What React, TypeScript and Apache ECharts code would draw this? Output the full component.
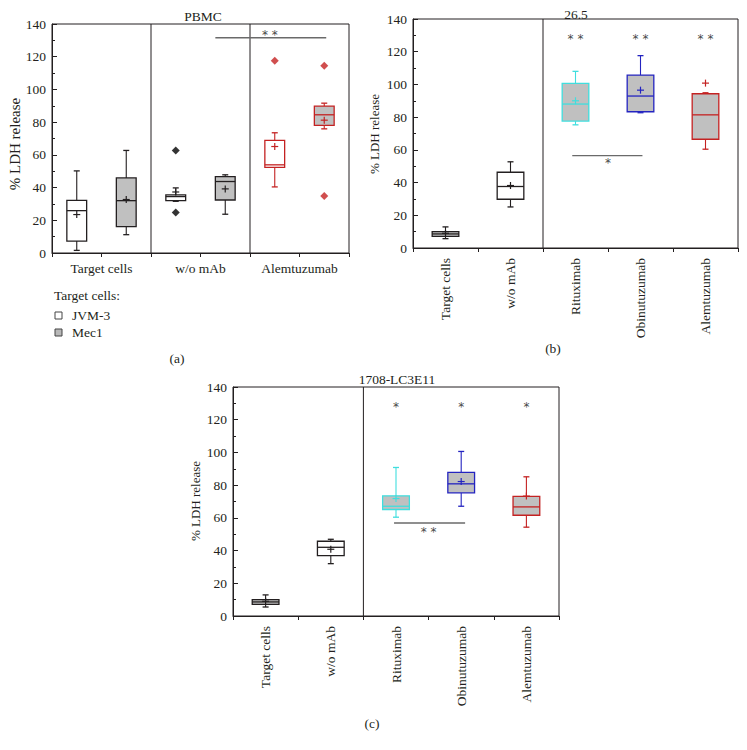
import React, { useEffect, useRef } from "react";
import * as echarts from "echarts";

// ---------- DATA ----------
const catsA = ["Target cells", "w/o mAb", "Alemtuzumab"];
// [min, Q1, median, Q3, max]
const jvm3Boxes = [
  [1.6, 7.3, 25.9, 32.2, 50.2],
  [31.6, 32.0, 34.5, 35.5, 39.8],
  [40.4, 52.4, 53.9, 68.8, 73.5],
];
const jvm3Means = [23.5, 37.3, 65.1];
const mec1Boxes = [
  [11.2, 16.1, 32.0, 45.9, 62.7],
  [23.7, 32.4, 43.7, 46.7, 47.8],
  [75.9, 78.0, 84.5, 89.8, 91.6],
];
const mec1Means = [32.7, 39.2, 81.2];
// [categoryIndex, value]
const jvm3Outliers = [
  [1, 62.7],
  [1, 24.7],
  [2, 117.6],
];
const mec1Outliers = [
  [2, 114.5],
  [2, 34.9],
];

const catsBC = ["Target cells", "w/o mAb", "Rituximab", "Obinutuzumab", "Alemtuzumab"];
const boxesB = [
  [5.7, 7.1, 8.6, 10.0, 12.9],
  [25.1, 29.8, 37.6, 46.3, 52.7],
  [75.3, 77.6, 88.0, 100.6, 108.0],
  [82.7, 83.3, 92.9, 105.7, 117.6],
  [60.4, 66.5, 81.4, 94.3, 94.9],
];
const meansB = [9.0, 38.2, 90.0, 96.5, 100.8];
const boxesC = [
  [5.5, 7.1, 8.6, 10.0, 12.9],
  [32.0, 36.9, 42.0, 45.7, 46.9],
  [60.4, 65.1, 67.1, 73.5, 90.8],
  [67.1, 75.3, 80.8, 87.8, 100.6],
  [54.3, 61.6, 66.7, 73.1, 85.1],
];
const meansC = [9.0, 40.8, 71.8, 82.2, 73.3];

const yTicks = { min: 0, max: 140, interval: 20 };

// significance annotations: [x1, x2, y] lines and [x, y, label] texts (axis units)
const sigLinesA = [[1.65, 2.77, 131.6]];
const sigTextsA = [[2.2, 134.5, "* *"]];
const sigLinesB = [[2.45, 3.53, 56.5]];
const sigTextsB = [
  [2.5, 129, "* *"],
  [3.5, 129, "* *"],
  [4.5, 129, "* *"],
  [3.0, 53, "*"],
];
const sigLinesC = [[2.47, 3.56, 56.9]];
const sigTextsC = [
  [2.5, 128.8, "*"],
  [3.5, 128.8, "*"],
  [4.5, 128.8, "*"],
  [3.0, 52.7, "* *"],
];

// ---------- STYLE ----------
const FONT = '"Liberation Serif", "DejaVu Serif", serif';
const INK = "#231f20";
const GRAY = "#c0c0c0";
const RED = "#c42222";
const CYAN = "#40dede";
const BLUE = "#2424c0";
const SIG = "#4a4a4a";

const line = (x1: number, y1: number, x2: number, y2: number, stroke: string, lw = 1) => ({
  type: "line",
  shape: { x1, y1, x2, y2 },
  style: { stroke, lineWidth: lw },
});

const makeBoxRender =
  (widthFrac: number, strokes: string[], fills: string[]) => (params: any, api: any) => {
    const i = params.dataIndex;
    const x = api.value(0);
    const c = (v: number) => api.coord([x, v]);
    const [cx, yMin] = c(api.value(1));
    const yQ1 = c(api.value(2))[1];
    const yMed = c(api.value(3))[1];
    const yQ3 = c(api.value(4))[1];
    const yMax = c(api.value(5))[1];
    const yMean = c(api.value(6))[1];
    const w = api.size([widthFrac, 0])[0];
    const cap = 3;
    const s = strokes[i];
    const f = fills[i];
    const p = 3.5;
    return {
      type: "group",
      children: [
        line(cx, yQ3, cx, yMax, s, 1.1),
        line(cx - cap, yMax, cx + cap, yMax, s, 1.3),
        line(cx, yQ1, cx, yMin, s, 1.1),
        line(cx - cap, yMin, cx + cap, yMin, s, 1.3),
        {
          type: "rect",
          shape: { x: cx - w / 2, y: yQ3, width: w, height: yQ1 - yQ3 },
          style: { fill: f, stroke: s, lineWidth: 1.3 },
        },
        line(cx - w / 2, yMed, cx + w / 2, yMed, s, 1.3),
        line(cx - p, yMean, cx + p, yMean, s, 1.2),
        line(cx, yMean - p, cx, yMean + p, s, 1.2),
      ],
    };
  };

const dividerRender = (params: any, api: any) => {
  const x = api.value(0);
  const a = api.coord([x, yTicks.min]);
  const b = api.coord([x, yTicks.max]);
  return line(a[0], a[1], b[0], b[1], INK, 1);
};

const sigLineRender = (params: any, api: any) => {
  const a = api.coord([api.value(0), api.value(2)]);
  const b = api.coord([api.value(1), api.value(2)]);
  return line(a[0], a[1], b[0], b[1], "#6a6a6a", 1.4);
};

const sigTextRender = (texts: any[]) => (params: any, api: any) => {
  const t = texts[params.dataIndex];
  const p = api.coord([t[0], t[1]]);
  return {
    type: "text",
    x: p[0],
    y: p[1] + 2,
    style: {
      text: t[2],
      align: "center",
      verticalAlign: "middle",
      font: `12px "DejaVu Sans", sans-serif`,
      fill: SIG,
    },
  };
};

const boxData = (boxes: number[][], means: number[], xs: number[]) =>
  boxes.map((b, i) => [xs[i], ...b, means[i]]);

export default function App() {
  const ref = useRef<HTMLDivElement>(null);
  useEffect(() => {
    if (!ref.current) return;
    const chart = echarts.init(ref.current, null, { renderer: "svg" });

    const grids = [
      { left: 52, top: 24, width: 297, height: 229 },
      { left: 413, top: 19, width: 325, height: 229 },
      { left: 233, top: 387, width: 326, height: 229 },
    ];

    const yAxis = [0, 1, 2].map((g) => ({
      gridIndex: g,
      type: "value",
      min: yTicks.min,
      max: yTicks.max,
      interval: yTicks.interval,
      axisLine: { show: true, lineStyle: { color: INK, width: 1 } },
      axisTick: { show: true, inside: true, length: 5, lineStyle: { color: INK } },
      minorTick: { show: true, splitNumber: 2, length: 3, lineStyle: { color: INK } },
      splitLine: { show: false },
      axisLabel: { fontFamily: FONT, fontSize: 13.5, color: INK, margin: 6 },
    }));

    const xAxis = [
      {
        gridIndex: 0,
        type: "value",
        min: 0,
        max: catsA.length,
        axisLine: { show: true, onZero: false, lineStyle: { color: INK } },
        axisTick: { show: true, length: 4, customValues: [0, 0.5, 1, 1.5, 2, 2.5, 3], lineStyle: { color: INK } },
        axisLabel: {
          customValues: catsA.map((_, i) => i + 0.5),
          formatter: (v: number) => catsA[Math.floor(v)],
          fontFamily: FONT,
          fontSize: 13.5,
          color: INK,
          margin: 8,
        },
        splitLine: { show: false },
      },
      ...[1, 2].map((g) => ({
        gridIndex: g,
        type: "value",
        min: 0,
        max: catsBC.length,
        axisLine: { show: true, onZero: false, lineStyle: { color: INK } },
        axisTick: { show: true, length: 4, customValues: [0, 1, 2, 3, 4, 5], lineStyle: { color: INK } },
        axisLabel: {
          customValues: catsBC.map((_, i) => i + 0.5),
          formatter: (v: number) => catsBC[Math.floor(v)],
          rotate: 90,
          fontFamily: FONT,
          fontSize: 13.5,
          color: INK,
          margin: 10,
        },
        splitLine: { show: false },
      })),
    ];

    const strokesA = [INK, INK, RED];
    const strokesBC = [INK, INK, CYAN, BLUE, RED];
    const fillsBC = [GRAY, "#ffffff", GRAY, GRAY, GRAY];

    const custom = (g: number, data: any[], renderItem: any) => ({
      type: "custom",
      xAxisIndex: g,
      yAxisIndex: g,
      clip: false,
      silent: true,
      data,
      renderItem,
    });

    const series: any[] = [
      custom(0, [[1], [2]], dividerRender),
      custom(1, [[2]], dividerRender),
      custom(2, [[2]], dividerRender),
      custom(
        0,
        boxData(jvm3Boxes, jvm3Means, catsA.map((_, i) => i + 0.25)),
        makeBoxRender(0.2, strokesA, ["#ffffff", "#ffffff", "#ffffff"])
      ),
      custom(
        0,
        boxData(mec1Boxes, mec1Means, catsA.map((_, i) => i + 0.75)),
        makeBoxRender(0.2, strokesA, [GRAY, GRAY, GRAY])
      ),
      {
        type: "scatter",
        xAxisIndex: 0,
        yAxisIndex: 0,
        symbol: "diamond",
        symbolSize: [8, 8],
        silent: true,
        data: [
          ...jvm3Outliers.map((o) => ({ value: [o[0] + 0.25, o[1]], itemStyle: { color: strokesA[o[0]] === RED ? RED : "#000" } })),
          ...mec1Outliers.map((o) => ({ value: [o[0] + 0.75, o[1]], itemStyle: { color: strokesA[o[0]] === RED ? RED : "#000" } })),
        ],
      },
      custom(1, boxData(boxesB, meansB, catsBC.map((_, i) => i + 0.5)), makeBoxRender(0.41, strokesBC, fillsBC)),
      custom(2, boxData(boxesC, meansC, catsBC.map((_, i) => i + 0.5)), makeBoxRender(0.41, strokesBC, fillsBC)),
      custom(0, sigLinesA, sigLineRender),
      custom(1, sigLinesB, sigLineRender),
      custom(2, sigLinesC, sigLineRender),
      custom(0, sigTextsA.map((t) => [t[0], t[1]]), sigTextRender(sigTextsA)),
      custom(1, sigTextsB.map((t) => [t[0], t[1]]), sigTextRender(sigTextsB)),
      custom(2, sigTextsC.map((t) => [t[0], t[1]]), sigTextRender(sigTextsC)),
    ];

    const txt = (text: string, x: number, y: number, extra: any = {}) => ({
      type: "text",
      x,
      y,
      silent: true,
      style: {
        text,
        font: `13.5px ${FONT}`,
        fill: INK,
        align: "center",
        verticalAlign: "middle",
        ...extra,
      },
    });
    const rot = (text: string, x: number, y: number, size: number) => ({
      ...txt(text, x, y, { font: `${size}px ${FONT}` }),
      rotation: Math.PI / 2,
    });

    const graphic = [
      txt("PBMC", 203, 16),
      txt("26.5", 576, 14),
      txt("1708-LC3E11", 397, 379),
      rot("% LDH release", 15, 144, 15),
      rot("% LDH release", 374, 134, 13),
      rot("% LDH release", 195, 501, 13),
      txt("Target cells:", 54, 295, { align: "left" }),
      {
        type: "rect",
        shape: { x: 55, y: 312, width: 7, height: 7 },
        style: { fill: "#ffffff", stroke: "#444", lineWidth: 1 },
      },
      txt("JVM-3", 72, 315, { align: "left" }),
      {
        type: "rect",
        shape: { x: 55, y: 329, width: 7, height: 7 },
        style: { fill: "#b8b8b8", stroke: "#444", lineWidth: 1 },
      },
      txt("Mec1", 72, 332, { align: "left" }),
      txt("(a)", 177, 358),
      txt("(b)", 553, 348),
      txt("(c)", 372, 723),
    ];

    chart.setOption({
      animation: false,
      backgroundColor: "#ffffff",
      grid: grids.map((g) => ({ ...g, show: true, borderColor: INK, borderWidth: 1, backgroundColor: "transparent" })),
      xAxis,
      yAxis,
      series,
      graphic,
    });
    return () => chart.dispose();
  }, []);

  return <div ref={ref} style={{ position: "absolute", left: 0, top: 0, width: 747, height: 750 }} />;
}
